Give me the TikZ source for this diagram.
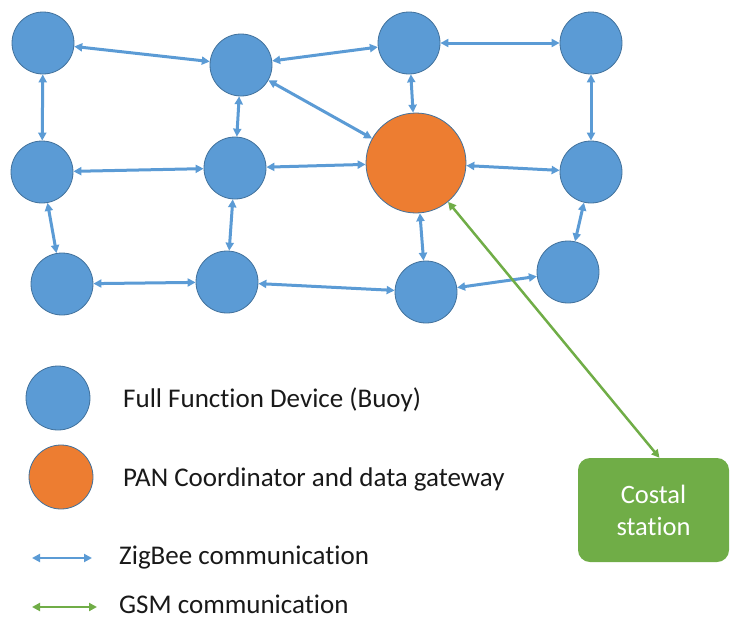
\documentclass[tikz,border=0pt]{standalone}
\usepackage{fontspec}
\setmainfont{Carlito}[Ligatures=NoCommon]
\usepackage{xcolor}
\usetikzlibrary{arrows.meta,positioning}

\definecolor{buoyblue}{HTML}{5B9BD5}
\definecolor{buoyedge}{HTML}{41719C}
\definecolor{panorange}{HTML}{ED7D31}
\definecolor{gsmgreen}{HTML}{70AD47}

\begin{document}
\begin{tikzpicture}[x=1pt, y=-1pt,
  buoy/.style={circle, draw=buoyedge, line width=0.8pt, fill=buoyblue, minimum size=62pt, inner sep=0pt},
  pan/.style={buoy, fill=panorange, minimum size=100pt},
  zig/.style={{Triangle[length=8pt,width=8pt]}-{Triangle[length=8pt,width=8pt]}, draw=buoyblue, line width=3pt},
  gsm/.style={{Triangle[length=8pt,width=8pt]}-{Triangle[length=8pt,width=8pt]}, draw=gsmgreen, line width=2.5pt},
  station/.style={fill=gsmgreen, rounded corners=12pt, minimum width=151pt, minimum height=104pt, align=center, text=white, font=\fontsize{26.5}{32}\selectfont},
  lab/.style={anchor=base west, inner sep=0pt, text=black!90, font=\fontsize{27}{30}\selectfont}]
\useasboundingbox (0,0) rectangle (731,619);
% network of buoys
\node[buoy] (a) at (43,43) {};
\node[buoy] (b) at (241,65) {};
\node[buoy] (c) at (409,43) {};
\node[buoy] (d) at (591,43) {};
\node[buoy] (e) at (42,172) {};
\node[buoy] (f) at (235,168) {};
\node[pan]  (g) at (416,163) {};
\node[buoy] (h) at (591,172) {};
\node[buoy] (i) at (62,284) {};
\node[buoy] (j) at (227,282) {};
\node[buoy] (k) at (426,292) {};
\node[buoy] (l) at (568,272) {};
\node[station] (station) at (653.5,510) {Costal\\station};
% zigbee links
\draw[zig] (a) -- (b);
\draw[zig] (b) -- (c);
\draw[zig] (c) -- (d);
\draw[zig] (a) -- (e);
\draw[zig] (b) -- (f);
\draw[zig] (b) -- (g);
\draw[zig] (c) -- (g);
\draw[zig] (d) -- (h);
\draw[zig] (e) -- (f);
\draw[zig] (f) -- (g);
\draw[zig] (g) -- (h);
\draw[zig] (e) -- (i);
\draw[zig] (f) -- (j);
\draw[zig] (g) -- (k);
\draw[zig] (h) -- (l);
\draw[zig] (i) -- (j);
\draw[zig] (j) -- (k);
\draw[zig] (k) -- (l);
% gsm link
\draw[gsm] (g) -- ([xshift=6pt]station.north);
% legend
\node[buoy, minimum size=64pt] (legbuoy) at (58,398) {};
\node[pan, minimum size=64pt] (legpan) at (61,477) {};
\node[lab] (legbuoytxt) at (123,407) {Full Function Device (Buoy)};
\node[lab] (legpantxt) at (123,486) {PAN Coordinator and data gateway};
\coordinate (zigl) at (32,558);
\coordinate (zigr) at (92,558);
\coordinate (gsml) at (32,607);
\coordinate (gsmr) at (97,607);
\draw[zig, line width=2.5pt] (zigl) -- (zigr);
\draw[gsm] (gsml) -- (gsmr);
\node[lab] (legzigtxt) at (119,564) {ZigBee communication};
\node[lab] (leggsmtxt) at (119,613) {GSM communication};
\end{tikzpicture}
\end{document}
